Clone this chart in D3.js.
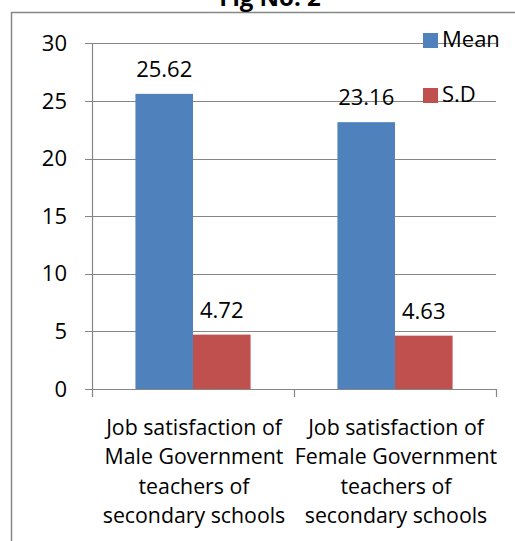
<!DOCTYPE html>
<html>
<head>
<meta charset="utf-8">
<script src="https://cdn.jsdelivr.net/npm/d3@7"></script>
<style>
  html, body { margin: 0; padding: 0; background: #fff; }
  svg { display: block; font-family: "Open Sans", sans-serif; }
</style>
</head>
<body>
<svg id="chart" width="515" height="541"></svg>
<script>
// Job satisfaction scores by teacher group
const categories = [
  ["Job satisfaction of", "Male Government", "teachers of", "secondary schools"],
  ["Job satisfaction of", "Female Government", "teachers of", "secondary schools"]
];
const seriesNames = ["Mean", "S.D"];
const meanValues = [25.62, 23.16];
const sdValues = [4.72, 4.63];
const yTicks = [0, 5, 10, 15, 20, 25, 30];
const colors = ["#4F81BD", "#C0504D"];

const svg = d3.select("#chart");
const W = 515, H = 541;
const FONT = "'Open Sans', sans-serif";
const FS = 22;

// outer chart frame (extends past the visible area on right and bottom)
svg.append("rect")
  .attr("x", 11.5).attr("y", 12.5)
  .attr("width", W + 20).attr("height", H + 20)
  .attr("fill", "none").attr("stroke", "#868686").attr("stroke-width", 1.5);

// title
svg.append("text")
  .attr("x", 270).attr("y", 6)
  .attr("text-anchor", "middle")
  .attr("font-weight", "bold")
  .attr("font-size", 24)
  .attr("fill", "#000")
  .text("Fig No. 2");

const plot = { left: 92, right: 496, top: 43.4, bottom: 389 };

const x0 = d3.scaleBand()
  .domain(d3.range(categories.length))
  .range([plot.left, plot.right])
  .paddingInner(0).paddingOuter(0);

const groupPad = 0.215;
const x1 = d3.scaleBand()
  .domain(seriesNames)
  .range([x0.bandwidth() * groupPad, x0.bandwidth() * (1 - groupPad)]);

const y = d3.scaleLinear().domain([0, 30]).range([plot.bottom, plot.top]);

// horizontal gridlines
svg.append("g")
  .selectAll("line")
  .data(yTicks)
  .join("line")
  .attr("x1", plot.left - 7).attr("x2", plot.right)
  .attr("y1", d => Math.round(y(d)) + 0.5).attr("y2", d => Math.round(y(d)) + 0.5)
  .attr("stroke", "#868686").attr("stroke-width", 1.2);

// y axis
const yAxis = svg.append("g")
  .attr("transform", `translate(${plot.left},0)`)
  .call(d3.axisLeft(y).tickValues(yTicks).tickSize(0).tickPadding(25));
yAxis.select(".domain").attr("stroke", "#868686").attr("stroke-width", 1.2);
yAxis.selectAll("text").attr("font-size", FS).attr("fill", "#000")
  .attr("font-family", FONT);

// x axis tick marks at category boundaries
const xBounds = d3.range(categories.length + 1).map(i => plot.left + i * x0.bandwidth());
svg.append("g")
  .selectAll("line")
  .data(xBounds)
  .join("line")
  .attr("x1", d => Math.round(d) + 0.5).attr("x2", d => Math.round(d) + 0.5)
  .attr("y1", plot.bottom).attr("y2", plot.bottom + 8)
  .attr("stroke", "#868686").attr("stroke-width", 1.2);

// bars
const rows = categories.map((c, i) => ({ i, values: [meanValues[i], sdValues[i]] }));
const groups = svg.append("g").selectAll("g")
  .data(rows)
  .join("g")
  .attr("transform", d => `translate(${x0(d.i)},0)`);

groups.selectAll("rect")
  .data(d => d.values.map((v, k) => ({ v, k })))
  .join("rect")
  .attr("x", d => x1(seriesNames[d.k]))
  .attr("y", d => y(d.v))
  .attr("width", x1.bandwidth())
  .attr("height", d => y(0) - y(d.v))
  .attr("fill", d => colors[d.k]);

// value labels
groups.selectAll("text.val")
  .data(d => d.values.map((v, k) => ({ v, k })))
  .join("text")
  .attr("class", "val")
  .attr("x", d => x1(seriesNames[d.k]) + x1.bandwidth() / 2)
  .attr("y", d => y(d.v) - 17)
  .attr("text-anchor", "middle")
  .attr("font-size", FS)
  .attr("fill", "#000")
  .text(d => d.v.toFixed(2));

// category labels
svg.append("g").selectAll("text")
  .data(categories)
  .join("text")
  .attr("text-anchor", "middle")
  .attr("font-size", 21.3)
  .attr("fill", "#000")
  .each(function (lines, i) {
    const t = d3.select(this);
    lines.forEach((ln, j) => {
      t.append("tspan")
        .attr("x", x0(i) + x0.bandwidth() / 2 + 1)
        .attr("y", 435 + j * 29.3)
        .text(ln);
    });
  });

// legend
const legend = svg.append("g").selectAll("g")
  .data(seriesNames)
  .join("g")
  .attr("transform", (d, i) => `translate(423,${33 + i * 55})`);
legend.append("rect")
  .attr("width", 15).attr("height", 15)
  .attr("fill", (d, i) => colors[i]);
legend.append("text")
  .attr("x", 19).attr("y", 14)
  .attr("font-size", FS)
  .attr("fill", "#000")
  .text(d => d);
</script>
</body>
</html>
